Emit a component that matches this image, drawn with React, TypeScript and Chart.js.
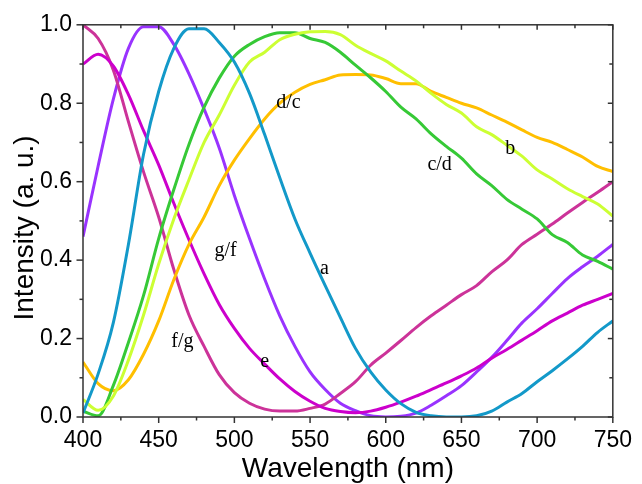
import React, { useEffect, useRef } from 'react';
import { Chart, registerables } from 'chart.js';

Chart.register(...registerables);

// ---------- data ----------
const wavelengths = [
  400, 410, 420, 430, 440, 450, 460, 470, 480, 490, 500, 510, 520, 530, 540, 550, 560, 570,
  580, 590, 600, 610, 620, 630, 640, 650, 660, 670, 680, 690, 700, 710, 720, 730, 740, 750,
];

const seriesA = [
  0.01, 0.11, 0.24, 0.44, 0.67, 0.83, 0.94, 0.99, 0.99, 0.955, 0.905, 0.825, 0.72, 0.61, 0.505, 0.418, 0.335, 0.254,
  0.175, 0.115, 0.069, 0.034, 0.012, 0.003, 0, 0, 0.003, 0.015, 0.038, 0.06, 0.09, 0.118, 0.148, 0.18, 0.216, 0.245,
];
const seriesB = [
  0.045, 0.017, 0.053, 0.145, 0.26, 0.39, 0.505, 0.605, 0.7, 0.77, 0.846, 0.905, 0.93, 0.962, 0.976, 0.982, 0.983, 0.975,
  0.948, 0.927, 0.908, 0.882, 0.857, 0.825, 0.797, 0.775, 0.74, 0.72, 0.693, 0.665, 0.63, 0.607, 0.582, 0.562, 0.543, 0.512,
];
const seriesC = [
  0.015, 0.003, 0.08, 0.19, 0.31, 0.455, 0.58, 0.695, 0.79, 0.864, 0.92, 0.95, 0.97, 0.98, 0.98, 0.965, 0.955, 0.93,
  0.897, 0.865, 0.83, 0.79, 0.76, 0.722, 0.69, 0.66, 0.62, 0.59, 0.555, 0.53, 0.505, 0.465, 0.445, 0.413, 0.397, 0.377,
];
const seriesD = [
  0.14, 0.085, 0.067, 0.095, 0.16, 0.245, 0.35, 0.44, 0.51, 0.59, 0.655, 0.71, 0.76, 0.8, 0.828, 0.848, 0.86, 0.872,
  0.873, 0.872, 0.863, 0.85, 0.85, 0.83, 0.815, 0.8, 0.788, 0.77, 0.752, 0.732, 0.713, 0.7, 0.682, 0.663, 0.639, 0.626,
];
const seriesE = [
  0.9, 0.925, 0.895, 0.822, 0.73, 0.643, 0.545, 0.452, 0.365, 0.287, 0.226, 0.175, 0.135, 0.097, 0.065, 0.04, 0.022, 0.014,
  0.011, 0.015, 0.025, 0.038, 0.053, 0.07, 0.087, 0.105, 0.125, 0.15, 0.172, 0.196, 0.22, 0.245, 0.265, 0.285, 0.3, 0.315,
];
const seriesF = [
  1.0, 0.965, 0.885, 0.753, 0.625, 0.51, 0.376, 0.26, 0.18, 0.108, 0.062, 0.035, 0.02, 0.015, 0.015, 0.022, 0.033, 0.06,
  0.09, 0.132, 0.163, 0.195, 0.228, 0.258, 0.285, 0.312, 0.335, 0.37, 0.4, 0.44, 0.466, 0.492, 0.52, 0.547, 0.573, 0.6,
];
const seriesG = [
  0.46, 0.64, 0.81, 0.94, 0.995, 0.995, 0.95, 0.875, 0.785, 0.686, 0.565, 0.455, 0.352, 0.258, 0.18, 0.115, 0.07, 0.035,
  0.016, 0.003, 0, 0.002, 0.01, 0.03, 0.054, 0.08, 0.115, 0.152, 0.195, 0.24, 0.276, 0.315, 0.353, 0.383, 0.41, 0.44,
];

const seriesNames = ['a', 'b', 'c', 'd', 'e', 'f', 'g'];
const seriesValues = [seriesA, seriesB, seriesC, seriesD, seriesE, seriesF, seriesG];
const seriesColors = ['#1399C9', '#CCFF33', '#36C936', '#FFBF00', '#CC00CC', '#CC3399', '#9933FF'];

const xMajorTicks = [400, 450, 500, 550, 600, 650, 700, 750];
const yMajorTicks = [0, 0.2, 0.4, 0.6, 0.8, 1.0];

const xTitle = 'Wavelength (nm)';
const yTitle = 'Intensity (a. u.)';

const curveLabels = ['d/c', 'c/d', 'b', 'g/f', 'a', 'f/g', 'e'];
const curveLabelX = [535.7, 635.6, 682.3, 494.2, 559.5, 465.7, 520];
const curveLabelY = [0.801, 0.642, 0.683, 0.423, 0.378, 0.193, 0.141];

const SANS = "'Liberation Sans', Arial, sans-serif";
const SERIF = "'Liberation Serif', 'Times New Roman', serif";

// ---------- plugins ----------
const framePlugin = {
  id: 'frameTicks',
  afterDraw(chart: any) {
    const { ctx, chartArea: a, scales } = chart;
    const xs = scales.x;
    const ys = scales.y;
    ctx.save();
    ctx.strokeStyle = '#333';
    ctx.lineWidth = 1.5;
    ctx.strokeRect(a.left, a.top, a.right - a.left, a.bottom - a.top);
    const seg = (x1: number, y1: number, x2: number, y2: number) => {
      ctx.beginPath();
      ctx.moveTo(x1, y1);
      ctx.lineTo(x2, y2);
      ctx.stroke();
    };
    const xAll: [number, boolean][] = [];
    xMajorTicks.forEach((v, i) => {
      xAll.push([v, true]);
      if (i < xMajorTicks.length - 1) xAll.push([(v + xMajorTicks[i + 1]) / 2, false]);
    });
    xAll.forEach(([v, major]) => {
      const px = xs.getPixelForValue(v);
      seg(px, a.bottom, px, a.bottom + (major ? 6 : 3.5));
      seg(px, a.top, px, a.top + (major ? 5 : 3.5));
    });
    const yAll: [number, boolean][] = [];
    yMajorTicks.forEach((v, i) => {
      yAll.push([v, true]);
      if (i < yMajorTicks.length - 1) yAll.push([(v + yMajorTicks[i + 1]) / 2, false]);
    });
    yAll.forEach(([v, major]) => {
      const py = ys.getPixelForValue(v);
      seg(a.left, py, a.left - (major ? 6.5 : 3.5), py);
      seg(a.right, py, a.right - (major ? 5 : 3.5), py);
    });

    // axis titles
    ctx.fillStyle = '#000';
    ctx.font = `28px ${SANS}`;
    ctx.textAlign = 'center';
    ctx.textBaseline = 'alphabetic';
    ctx.fillText(xTitle, (a.left + a.right) / 2, 476.5);
    ctx.save();
    ctx.translate(33, (a.top + a.bottom) / 2 + 7);
    ctx.rotate(-Math.PI / 2);
    ctx.fillText(yTitle, 0, 0);
    ctx.restore();
    ctx.restore();
  },
};

const labelPlugin = {
  id: 'curveLabels',
  afterDatasetsDraw(chart: any) {
    const { ctx, scales } = chart;
    ctx.save();
    ctx.fillStyle = '#000';
    ctx.font = `20px ${SERIF}`;
    ctx.textAlign = 'center';
    ctx.textBaseline = 'middle';
    curveLabels.forEach((t, i) => {
      ctx.fillText(t, scales.x.getPixelForValue(curveLabelX[i]), scales.y.getPixelForValue(curveLabelY[i]));
    });
    ctx.restore();
  },
};

export default function App() {
  const ref = useRef<HTMLCanvasElement | null>(null);

  useEffect(() => {
    document.body.style.margin = '0';
    const canvas = ref.current;
    if (!canvas) return;
    const chart = new Chart(canvas, {
      type: 'line',
      data: {
        datasets: seriesNames.map((name, i) => ({
          label: name,
          data: wavelengths.map((w, j) => ({ x: w, y: seriesValues[i][j] })),
          borderColor: seriesColors[i],
          backgroundColor: seriesColors[i],
          borderWidth: 3,
          pointRadius: 0,
          fill: false,
          cubicInterpolationMode: 'monotone' as const,
        })),
      },
      options: {
        responsive: false,
        animation: false,
        events: [],
        layout: { padding: { top: 23, right: 19, left: 0, bottom: 0 } },
        plugins: { legend: { display: false }, tooltip: { enabled: false } },
        scales: {
          x: {
            type: 'linear',
            min: 400,
            max: 750,
            afterFit: (s: any) => {
              s.height = 67;
            },
            grid: { display: false, drawTicks: false },
            border: { display: false },
            ticks: {
              stepSize: 50,
              padding: 10,
              color: '#000',
              maxRotation: 0,
              autoSkip: false,
              font: { family: SANS, size: 23 },
            },
          },
          y: {
            type: 'linear',
            min: 0,
            max: 1,
            afterFit: (s: any) => {
              s.width = 83;
            },
            grid: { display: false, drawTicks: false },
            border: { display: false },
            ticks: {
              stepSize: 0.2,
              padding: 11,
              color: '#000',
              font: { family: SANS, size: 23 },
              callback: (v: any) => Number(v).toFixed(1),
            },
          },
        },
      },
      plugins: [framePlugin, labelPlugin],
    } as any);
    return () => chart.destroy();
  }, []);

  return (
    <div style={{ position: 'absolute', left: 0, top: 0, width: 642, height: 484, background: '#fff' }}>
      <canvas ref={ref} width={642} height={484} style={{ width: 642, height: 484, display: 'block' }} />
    </div>
  );
}
